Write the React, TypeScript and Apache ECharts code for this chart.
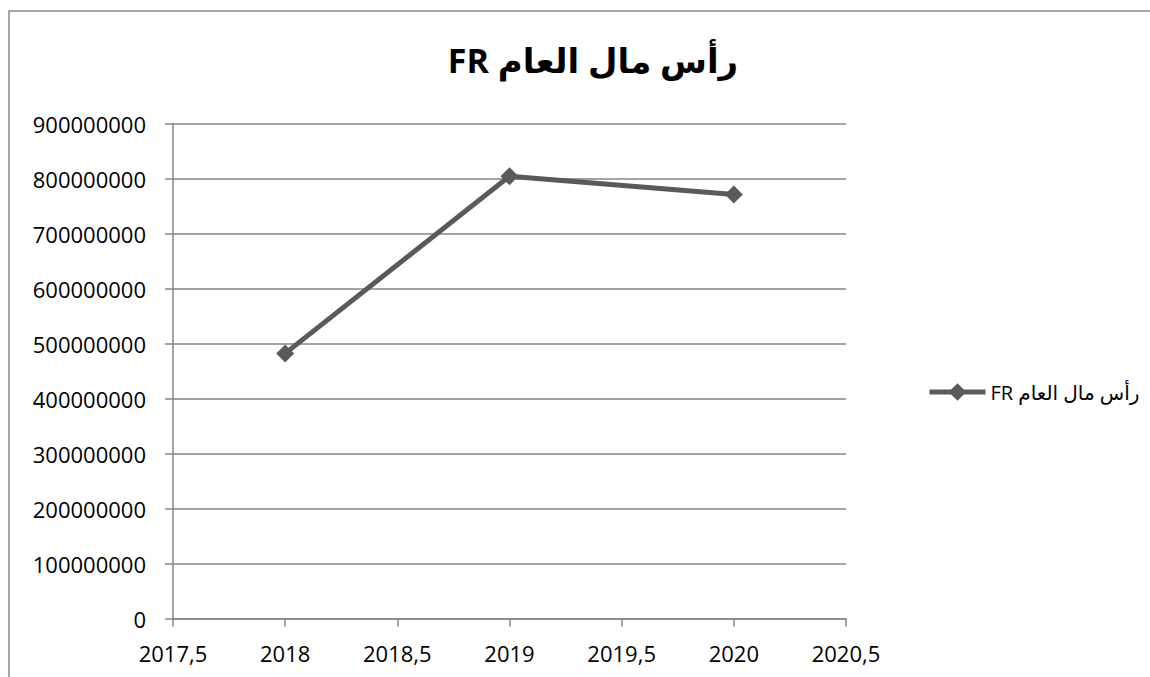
import React, { useEffect, useRef } from "react";
import * as echarts from "echarts";

const title = "رأس مال العام FR";
const seriesName = "رأس مال العام FR";
const years = [2018, 2019, 2020];
const values = [482000000, 804000000, 771000000];

const RTL = (s: string) => "\u202B" + s + "\u202C";

export default function App() {
  const ref = useRef<HTMLDivElement>(null);
  useEffect(() => {
    if (!ref.current) return;
    const chart = echarts.init(ref.current, null, { renderer: "svg" });
    const axisGray = "#868686";
    chart.setOption({
      animation: false,
      backgroundColor: "#ffffff",
      textStyle: { fontFamily: "'Open Sans', 'DejaVu Sans', sans-serif" },
      title: {
        text: RTL(title),
        left: 588,
        top: 38,
        textAlign: "center",
        textStyle: {
          fontSize: 34,
          fontWeight: "bold",
          color: "#000",
          fontFamily: "'Open Sans', 'DejaVu Sans', sans-serif",
        },
      },
      graphic: [
        {
          type: "rect",
          shape: { x: 9, y: 11, width: 1300, height: 800 },
          style: { fill: "none", stroke: "#888888", lineWidth: 1.5 },
          silent: true,
        },
      ],
      legend: {
        left: 922,
        top: 377,
        itemWidth: 56,
        itemHeight: 22,
        itemGap: 6,
        lineStyle: { width: 5 },
        formatter: (n: string) => RTL(n),
        textStyle: { fontSize: 20, color: "#000" },
      },
      grid: { left: 173, right: 304, top: 123.5, bottom: 58.5, containLabel: false },
      xAxis: {
        type: "value",
        min: 2017.5,
        max: 2020.5,
        interval: 0.5,
        axisLine: { show: true, lineStyle: { color: axisGray, width: 1.5 } },
        axisTick: { show: true, length: 8, lineStyle: { color: axisGray, width: 1.5 } },
        splitLine: { show: false },
        axisLabel: {
          color: "#000",
          fontSize: 22,
          margin: 23,
          formatter: (v: number) => String(v).replace(".", ","),
        },
      },
      yAxis: {
        type: "value",
        min: 0,
        max: 900000000,
        interval: 100000000,
        axisLine: { show: true, lineStyle: { color: axisGray, width: 1.5 } },
        axisTick: { show: true, length: 8, lineStyle: { color: axisGray, width: 1.5 } },
        splitLine: { show: true, lineStyle: { color: axisGray, width: 1.5 } },
        axisLabel: {
          color: "#000",
          fontSize: 22,
          margin: 27,
          formatter: (v: number) => String(v),
        },
      },
      series: [
        {
          name: seriesName,
          type: "line",
          data: years.map((y, i) => [y, values[i]]),
          symbol: "diamond",
          symbolSize: 18,
          lineStyle: { color: "#5a5a5a", width: 5 },
          itemStyle: { color: "#5a5a5a" },
        },
      ],
    });
    return () => chart.dispose();
  }, []);
  return (
    <div
      ref={ref}
      style={{ position: "fixed", left: 0, top: 0, width: 1150, height: 677 }}
    />
  );
}
